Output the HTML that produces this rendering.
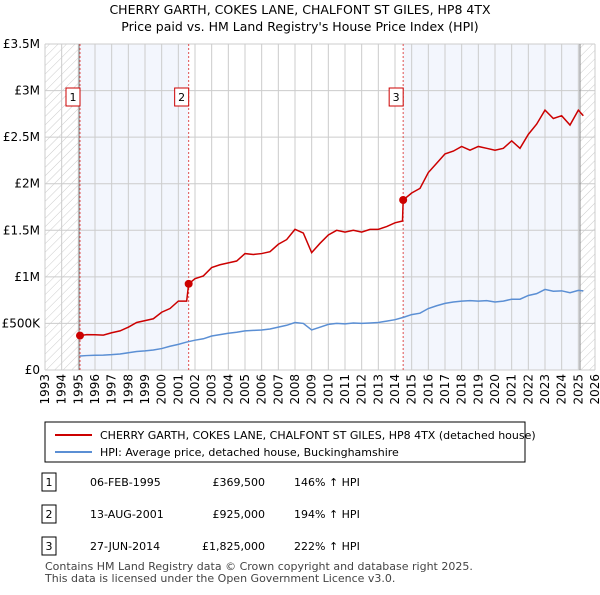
<!DOCTYPE html>
<html><head><meta charset="utf-8"><style>
body{margin:0;background:#fff;font-family:"Liberation Sans","DejaVu Sans",sans-serif;}
svg text{font-family:"DejaVu Sans","Liberation Sans",sans-serif;}
</style></head><body>
<svg id="c" width="600" height="590" xmlns="http://www.w3.org/2000/svg">
<defs><pattern id="h" width="6" height="6" patternUnits="userSpaceOnUse" patternTransform="rotate(45)"><line x1="0" y1="0" x2="0" y2="6" stroke="#ccc" stroke-width="1"/></pattern></defs>
<text x="300" y="14" text-anchor="middle" font-size="12.5">CHERRY GARTH, COKES LANE, CHALFONT ST GILES, HP8 4TX</text>
<text x="300" y="31" text-anchor="middle" font-size="12.5">Price paid vs. HM Land Registry's House Price Index (HPI)</text>
<g id="bg"></g><g id="grid"></g><g id="lines"></g><g id="marks"></g>
<g>
<rect x="45" y="422" width="480" height="40" fill="#fff" stroke="#000" stroke-width="1"/>
<line x1="55" y1="435" x2="92" y2="435" stroke="#cc0000" stroke-width="2"/>
<text x="100" y="439" font-size="11">CHERRY GARTH, COKES LANE, CHALFONT ST GILES, HP8 4TX (detached house)</text>
<line x1="55" y1="452" x2="92" y2="452" stroke="#5b8fd4" stroke-width="2"/>
<text x="100" y="456" font-size="11">HPI: Average price, detached house, Buckinghamshire</text>
</g>
<g id="tbl" font-size="11"></g>
<text x="45" y="570" font-size="11" fill="#444">Contains HM Land Registry data © Crown copyright and database right 2025.</text>
<text x="45" y="582" font-size="11" fill="#444">This data is licensed under the Open Government Licence v3.0.</text>
</svg>
<script>
const hpiYears=[1995.1,1995.5,1996,1996.5,1997,1997.5,1998,1998.5,1999,1999.5,2000,2000.5,2001,2001.5,2002,2002.5,2003,2003.5,2004,2004.5,2005,2005.5,2006,2006.5,2007,2007.5,2008,2008.5,2009,2009.5,2010,2010.5,2011,2011.5,2012,2012.5,2013,2013.5,2014,2014.5,2015,2015.5,2016,2016.5,2017,2017.5,2018,2018.5,2019,2019.5,2020,2020.5,2021,2021.5,2022,2022.5,2023,2023.5,2024,2024.5,2025,2025.3];
const hpiValues=[150,155,158,160,165,172,185,198,205,215,230,255,275,300,320,335,365,380,395,405,420,425,430,440,460,480,510,500,430,460,490,500,495,505,500,505,510,525,540,565,595,610,660,690,715,730,740,745,740,745,730,740,760,760,800,820,865,845,850,830,855,850];
const priceYears=[1995.1,1995.5,1996,1996.5,1997,1997.5,1998,1998.5,1999,1999.5,2000,2000.5,2001,2001.5,2001.62,2002,2002.5,2003,2003.5,2004,2004.5,2005,2005.5,2006,2006.5,2007,2007.5,2008,2008.5,2009,2009.5,2010,2010.5,2011,2011.5,2012,2012.5,2013,2013.5,2014,2014.45,2014.49,2015,2015.5,2016,2016.5,2017,2017.5,2018,2018.5,2019,2019.5,2020,2020.5,2021,2021.5,2022,2022.5,2023,2023.5,2024,2024.5,2025,2025.3];
const priceValues=[369,380,378,375,400,420,460,510,530,550,620,660,740,740,925,980,1010,1100,1130,1150,1170,1250,1240,1250,1270,1350,1400,1510,1470,1260,1360,1450,1500,1480,1500,1480,1510,1510,1540,1580,1600,1825,1900,1950,2120,2220,2320,2350,2400,2360,2400,2380,2360,2380,2460,2380,2530,2640,2790,2700,2730,2630,2790,2730];
const saleYears=[1995.1,2001.62,2014.49];
const saleValues=[369.5,925,1825];
const saleLabels=["1","2","3"];
const saleDates=["06-FEB-1995","13-AUG-2001","27-JUN-2014"];
const salePrices=["£369,500","£925,000","£1,825,000"];
const saleHpi=["146% ↑ HPI","194% ↑ HPI","222% ↑ HPI"];
const yTicks=[0,500,1000,1500,2000,2500,3000,3500];
const yTickLabels=["£0","£500K","£1M","£1.5M","£2M","£2.5M","£3M","£3.5M"];
const NS="http://www.w3.org/2000/svg";
const X0=45,X1=595,Y0=370,Y1=44,YR0=1993,YR1=2026,VMAX=3500;
const xs=y=>X0+(y-YR0)/(YR1-YR0)*(X1-X0);
const ys=v=>Y0-v/VMAX*(Y0-Y1);
function mk(p,t,a){const e=document.createElementNS(NS,t);for(const k in a)e.setAttribute(k,a[k]);p.appendChild(e);return e;}
const bg=document.getElementById('bg'),grid=document.getElementById('grid'),lines=document.getElementById('lines'),marks=document.getElementById('marks');
let r=mk(bg,'rect',{x:X0,y:Y1,width:xs(1995.1)-X0,height:Y0-Y1,fill:'url(#h)'});

r=mk(bg,'rect',{x:xs(2025.1),y:Y1,width:X1-xs(2025.1),height:Y0-Y1,fill:'url(#h)'});

r=mk(bg,'rect',{x:xs(saleYears[0]),y:Y1,width:xs(saleYears[1])-xs(saleYears[0]),height:Y0-Y1,fill:'#f3f6fd'});

r=mk(bg,'rect',{x:xs(saleYears[2]),y:Y1,width:xs(2025.1)-xs(saleYears[2]),height:Y0-Y1,fill:'#f3f6fd'});

for(let y=YR0;y<=YR1;y++){
 const x=xs(y);
 let l=mk(grid,'line',{x1:x,y1:Y1,x2:x,y2:Y0,stroke:'#ccc','stroke-width':1});
 
 let t=mk(grid,'text',{x:0,y:0,'font-size':12,'text-anchor':'end',transform:`translate(${x+4},${Y0+4}) rotate(-90)`});
 t.textContent=y;
}
yTicks.forEach((v,i)=>{
 const y=ys(v);
 let l=mk(grid,'line',{x1:X0,y1:y,x2:X1,y2:y,stroke:'#ccc','stroke-width':1});
 
 let t=mk(grid,'text',{x:X0-5,y:y+4,'font-size':12,'text-anchor':'end'});
 t.textContent=yTickLabels[i];
});
let l=mk(grid,'line',{x1:xs(1995.05),y1:Y1,x2:xs(1995.05),y2:Y0,stroke:'#888','stroke-width':1});

l=mk(grid,'line',{x1:xs(2025.1),y1:Y1,x2:xs(2025.1),y2:Y0,stroke:'#888','stroke-width':1});

saleYears.forEach((yr,i)=>{
 const x=xs(yr);
 let d=mk(grid,'line',{x1:x,y1:Y1,x2:x,y2:Y0,stroke:'#e05050','stroke-width':1,'stroke-dasharray':'2,2'});
 
 let b=mk(marks,'rect',{x:x-14,y:88,width:14,height:18,fill:'#fff',stroke:'#cc0000'});
 
 let t=mk(marks,'text',{x:x-7,y:101,'font-size':11,'text-anchor':'middle'});
 t.textContent=saleLabels[i];
});
let p=mk(lines,'polyline',{points:hpiYears.map((y,i)=>xs(y)+','+ys(hpiValues[i])).join(' '),fill:'none',stroke:'#5b8fd4','stroke-width':1.5});

p=mk(lines,'polyline',{points:priceYears.map((y,i)=>xs(y)+','+ys(priceValues[i])).join(' '),fill:'none',stroke:'#cc0000','stroke-width':1.5});

saleYears.forEach((yr,i)=>{
 let c=mk(marks,'circle',{cx:xs(yr),cy:ys(saleValues[i]),r:4,fill:'#cc0000'});
 
});
const tbl=document.getElementById('tbl');
saleYears.forEach((yr,i)=>{
 const y=483+i*32;
 let b=mk(tbl,'rect',{x:42,y:y-10,width:14,height:18,fill:'#fff',stroke:'#000'});
 
 const cells=[[49,saleLabels[i],'middle','table-index'],[90,saleDates[i],'start','table-date'],[265,salePrices[i],'end','table-price'],[294,saleHpi[i],'start','table-hpi-change']];
 cells.forEach(c=>{let t=mk(tbl,'text',{x:c[0],y:y+3,'text-anchor':c[2]});t.textContent=c[1];
 });
});
</script>
</body></html>
